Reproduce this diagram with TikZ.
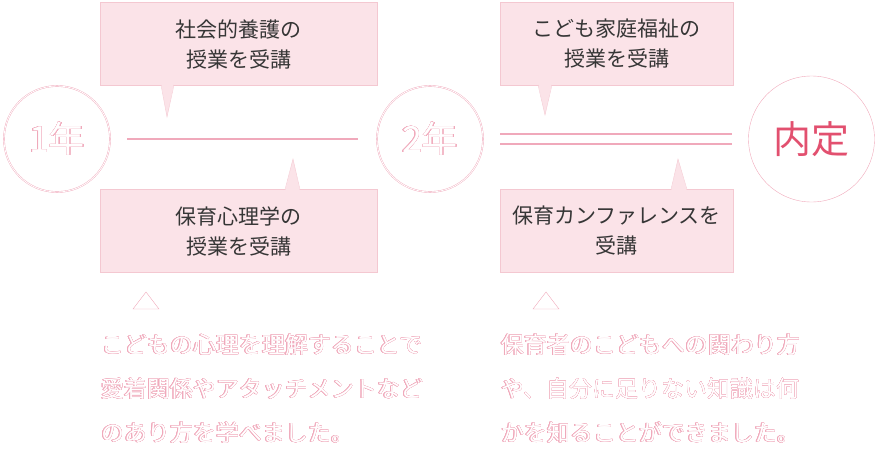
\documentclass[tikz,border=0pt]{standalone}
\usepackage{fontspec}
\setmainfont{Noto Sans CJK JP}
\usepackage[copies]{contour}
\usetikzlibrary{positioning}
\definecolor{boxfill}{HTML}{FBE3E8}
\definecolor{boxline}{HTML}{F4C8D1}
\definecolor{ringline}{HTML}{F0A9BB}
\definecolor{naitei}{HTML}{E2506F}
\definecolor{textgray}{HTML}{363636}
\contourlength{0.35pt}
\newcommand{\hollowtext}[1]{\contour{ringline}{\textcolor{white}{#1}}}
\tikzstyle{talk} = [draw=boxline, fill=boxfill, minimum width=277pt, minimum height=83pt, align=center, text=textgray, font=\fontsize{21}{30}\selectfont]
\tikzstyle{year} = [circle, draw=ringline, double=white, double distance=0.8pt, line width=0.4pt, minimum size=106pt, inner sep=0pt, font=\fontsize{36}{36}\selectfont]
\tikzstyle{tail} = [fill=boxfill]
\tikzstyle{note} = [align=left, inner sep=0pt, font=\fontsize{23}{44}\selectfont]

\begin{document}
\begin{tikzpicture}[x=1pt,y=-1pt]
	\useasboundingbox (0,0) rectangle (880,450);
	% boxes
	\node[talk] (hogo) at (238.5,44) {社会的養護の\\授業を受講};
	\node[talk] (shinri) at (238.5,231) {保育心理学の\\授業を受講};
	\node[talk, minimum width=233pt] (kazoku) at (616.5,44) {こども家庭福祉の\\授業を受講};
	\node[talk, minimum width=233pt] (kanfa) at (616.5,231) {保育カンファレンスを\\受講};
	% tails
	\fill[tail] (161,83) -- (167,117) -- (174,83) -- cycle;
	\draw[boxline] (161,85) -- (167,117) -- (174,85);
	\fill[tail] (285,191) -- (293,159) -- (300,191) -- cycle;
	\draw[boxline] (285,189.5) -- (293,159) -- (300,189.5);
	\fill[tail] (538,83) -- (545,115) -- (552,83) -- cycle;
	\draw[boxline] (538,85) -- (545,115) -- (552,85);
	\fill[tail] (671,191) -- (678,159) -- (687,191) -- cycle;
	\draw[boxline] (671,189.5) -- (678,159) -- (687,189.5);
	% steps
	\node[year] (y1) at (57,139) {\hollowtext{1年}};
	\node[year] (y2) at (430,139) {\hollowtext{2年}};
	\node[circle, draw=ringline, minimum size=126pt, inner sep=0pt, text=naitei, font=\fontsize{38}{38}\selectfont] (goal) at (811.5,139) {内定};
	\draw[ringline, line width=2pt, shorten <=17pt, shorten >=19pt] (y1) -- (y2);
	\draw[ringline, line width=2pt, double=white, double distance=8pt, shorten <=17pt, shorten >=16pt] (y2) -- (goal);
	% notes
	\draw[ringline] (133,309) -- (146,292) -- (159,309) -- cycle;
	\draw[ringline] (533,309) -- (546,292) -- (559,309) -- cycle;
	\node[note, anchor=west] (memo1) at (101,389) {\hollowtext{こどもの心理を理解することで}\\\hollowtext{愛着関係やアタッチメントなど}\\\hollowtext{のあり方を学べました。}};
	\node[note, anchor=west] (memo2) at (501,389) {\hollowtext{保育者のこどもへの関わり方}\\\hollowtext{や、自分に足りない知識は何}\\\hollowtext{かを知ることができました。}};
\end{tikzpicture}
\end{document}
